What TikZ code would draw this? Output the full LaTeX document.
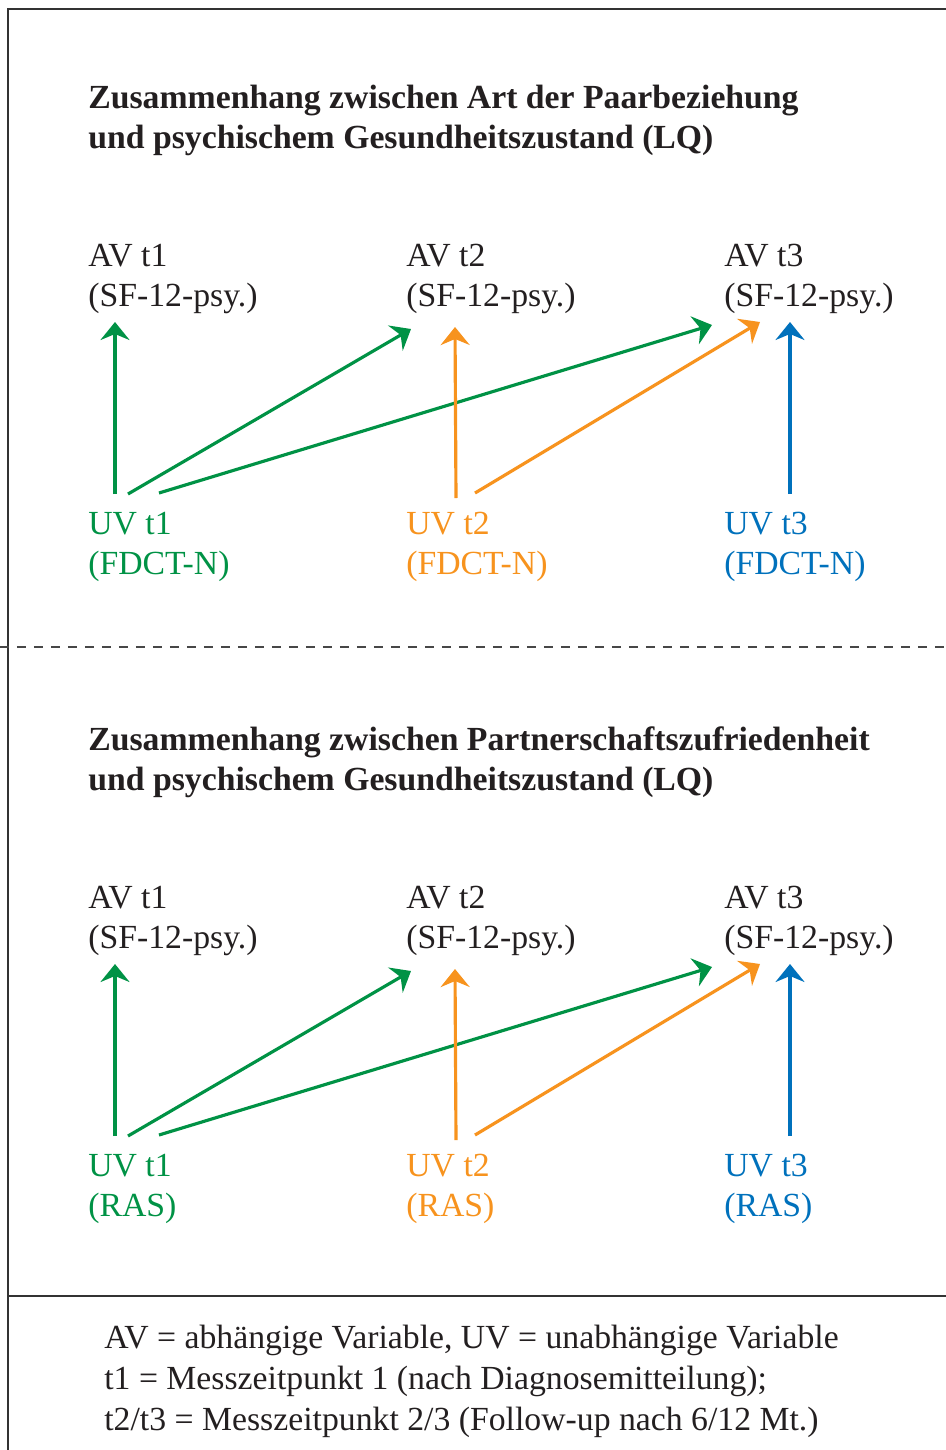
\documentclass[tikz,border=0pt]{standalone}
\usepackage{fontspec}
\setmainfont{Liberation Serif}
\usepackage{xcolor}
\usepackage{tikz}
\usetikzlibrary{arrows.meta,calc}
\definecolor{UVGreen}{HTML}{009245}
\definecolor{UVOrange}{HTML}{F7931E}
\definecolor{UVBlue}{HTML}{0071BC}
\definecolor{InkBlack}{HTML}{231F20}
\definecolor{FrameGray}{HTML}{333333}

\begin{document}
\begin{tikzpicture}[
  x=0.02cm, y=-0.02cm,
  lbl/.style={anchor=base west,align=left,inner sep=0pt,text=InkBlack,font=\fontsize{19.2pt}{22.7pt}\selectfont},
  head/.style={lbl,font=\fontsize{19.2pt}{22.7pt}\selectfont\bfseries},
  note/.style={lbl,font=\fontsize{19.2pt}{23.3pt}\selectfont},
  arrow/.style={-{Stealth[length=0.36cm,width=0.58cm,inset=0.12cm]},line width=1.8pt},
  frame/.style={draw=FrameGray,line width=1.5pt},
  split/.style={draw=FrameGray!90,line width=1.1pt,dash pattern=on 0.18cm off 0.16cm}
]
\useasboundingbox (0,0) rectangle (946,1450);
\draw[frame] (960,9) -- (8,9) -- (8,1460);
\draw[frame] (8,1296) -- (960,1296);
\draw[split] (0,647) -- (946,647);

\node[head] (titleA) at (88,148) {Zusammenhang zwischen Art der Paarbeziehung\\und psychischem Gesundheitszustand (LQ)};
\node[lbl] (avA1) at (88,306) {AV t1\\(SF-12-psy.)};
\node[lbl] (avA2) at (406,306) {AV t2\\(SF-12-psy.)};
\node[lbl] (avA3) at (724,306) {AV t3\\(SF-12-psy.)};
\node[lbl,text=UVGreen] (uvA1) at (88,574) {UV t1\\(FDCT-N)};
\node[lbl,text=UVOrange] (uvA2) at (406,574) {UV t2\\(FDCT-N)};
\node[lbl,text=UVBlue] (uvA3) at (724,574) {UV t3\\(FDCT-N)};
\draw[arrow,UVGreen] ($(uvA1.base west)+(27,-80)$) -- ($(avA1.base west)+(27,16)$);
\draw[arrow,UVGreen] ($(uvA1.base west)+(40,-80)$) -- ($(avA2.base west)+(5,23)$);
\draw[arrow,UVGreen] ($(uvA1.base west)+(71,-81)$) -- ($(avA3.base west)+(-12,19)$);
\draw[arrow,UVOrange] ($(uvA2.base west)+(50,-76)$) -- ($(avA2.base west)+(49,21)$);
\draw[arrow,UVOrange] ($(uvA2.base west)+(69,-81)$) -- ($(avA3.base west)+(36,16)$);
\draw[arrow,UVBlue] ($(uvA3.base west)+(66,-80)$) -- ($(avA3.base west)+(66,16)$);

\node[head] (titleB) at (88,790) {Zusammenhang zwischen Partnerschaftszufriedenheit\\und psychischem Gesundheitszustand (LQ)};
\node[lbl] (avB1) at (88,948) {AV t1\\(SF-12-psy.)};
\node[lbl] (avB2) at (406,948) {AV t2\\(SF-12-psy.)};
\node[lbl] (avB3) at (724,948) {AV t3\\(SF-12-psy.)};
\node[lbl,text=UVGreen] (uvB1) at (88,1216) {UV t1\\(RAS)};
\node[lbl,text=UVOrange] (uvB2) at (406,1216) {UV t2\\(RAS)};
\node[lbl,text=UVBlue] (uvB3) at (724,1216) {UV t3\\(RAS)};
\draw[arrow,UVGreen] ($(uvB1.base west)+(27,-80)$) -- ($(avB1.base west)+(27,16)$);
\draw[arrow,UVGreen] ($(uvB1.base west)+(40,-80)$) -- ($(avB2.base west)+(5,23)$);
\draw[arrow,UVGreen] ($(uvB1.base west)+(71,-81)$) -- ($(avB3.base west)+(-12,19)$);
\draw[arrow,UVOrange] ($(uvB2.base west)+(50,-76)$) -- ($(avB2.base west)+(49,21)$);
\draw[arrow,UVOrange] ($(uvB2.base west)+(69,-81)$) -- ($(avB3.base west)+(36,16)$);
\draw[arrow,UVBlue] ($(uvB3.base west)+(66,-80)$) -- ($(avB3.base west)+(66,16)$);

\node[note] (legend) at (104,1430) {AV = abhängige Variable, UV = unabhängige Variable\\t1 = Messzeitpunkt 1 (nach Diagnosemitteilung);\\t2/t3 = Messzeitpunkt 2/3 (Follow-up nach 6/12 Mt.)};
\end{tikzpicture}
\end{document}
